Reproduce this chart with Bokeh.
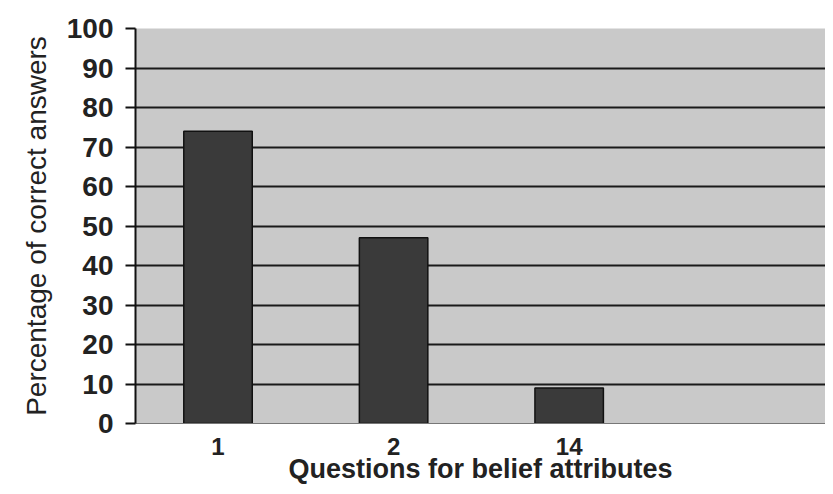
from bokeh.plotting import figure
from bokeh.models import Range1d, FixedTicker, ColumnDataSource
from bokeh.embed import file_html
from bokeh.resources import INLINE

categories = ["1", "2", "14"]
values = [74, 47, 9]
y_ticks = [0, 10, 20, 30, 40, 50, 60, 70, 80, 90, 100]

xs = list(range(len(categories)))
src = ColumnDataSource(dict(x=xs, top=values))

p = figure(width=825, height=486, output_backend="svg", toolbar_location=None,
           x_range=Range1d(-0.47, 3.46), y_range=Range1d(0, 100),
           min_border_left=135, min_border_right=0, min_border_top=28, min_border_bottom=58)
p.background_fill_color = "#c9c9c9"
p.border_fill_color = "white"
p.outline_line_color = None

p.vbar(x="x", top="top", bottom=0, width=0.39, source=src,
       fill_color="#3a3a3a", line_color="#111111", line_width=1.5)

p.xgrid.visible = False
p.ygrid.ticker = FixedTicker(ticks=y_ticks[1:-1])
p.ygrid.grid_line_color = "#1a1a1a"
p.ygrid.grid_line_width = 2
p.ygrid.level = "underlay"

p.yaxis.ticker = FixedTicker(ticks=y_ticks)
p.yaxis.axis_line_color = "#111111"
p.yaxis.axis_line_width = 2
p.yaxis.major_tick_line_color = "#111111"
p.yaxis.major_tick_line_width = 2
p.yaxis.major_tick_out = 10
p.yaxis.major_tick_in = 0
p.yaxis.minor_tick_line_color = None
p.yaxis.major_label_standoff = 12
p.yaxis.major_label_text_font = "Liberation Sans"
p.yaxis.major_label_text_font_style = "bold"
p.yaxis.major_label_text_font_size = "28px"
p.yaxis.major_label_text_color = "#222222"
p.yaxis.axis_label = "Percentage of correct answers"
p.yaxis.axis_label_text_font = "Liberation Sans"
p.yaxis.axis_label_text_font_style = "normal"
p.yaxis.axis_label_text_font_size = "28px"
p.yaxis.axis_label_text_color = "#222222"
p.yaxis.axis_label_standoff = 12

p.xaxis.ticker = FixedTicker(ticks=xs)
p.xaxis.major_label_overrides = {i: c for i, c in zip(xs, categories)}
p.xaxis.axis_line_color = "#777777"
p.xaxis.axis_line_width = 1
p.xaxis.major_tick_line_color = None
p.xaxis.minor_tick_line_color = None
p.xaxis.major_label_standoff = 8
p.xaxis.major_label_text_font = "Liberation Sans"
p.xaxis.major_label_text_font_style = "bold"
p.xaxis.major_label_text_font_size = "24px"
p.xaxis.major_label_text_color = "#222222"
p.xaxis.axis_label = "Questions for belief attributes"
p.xaxis.axis_label_text_font = "Liberation Sans"
p.xaxis.axis_label_text_font_style = "bold"
p.xaxis.axis_label_text_font_size = "27px"
p.xaxis.axis_label_text_color = "#222222"
p.xaxis.axis_label_standoff = -4

open("out.html", "w").write(file_html(p, INLINE))
